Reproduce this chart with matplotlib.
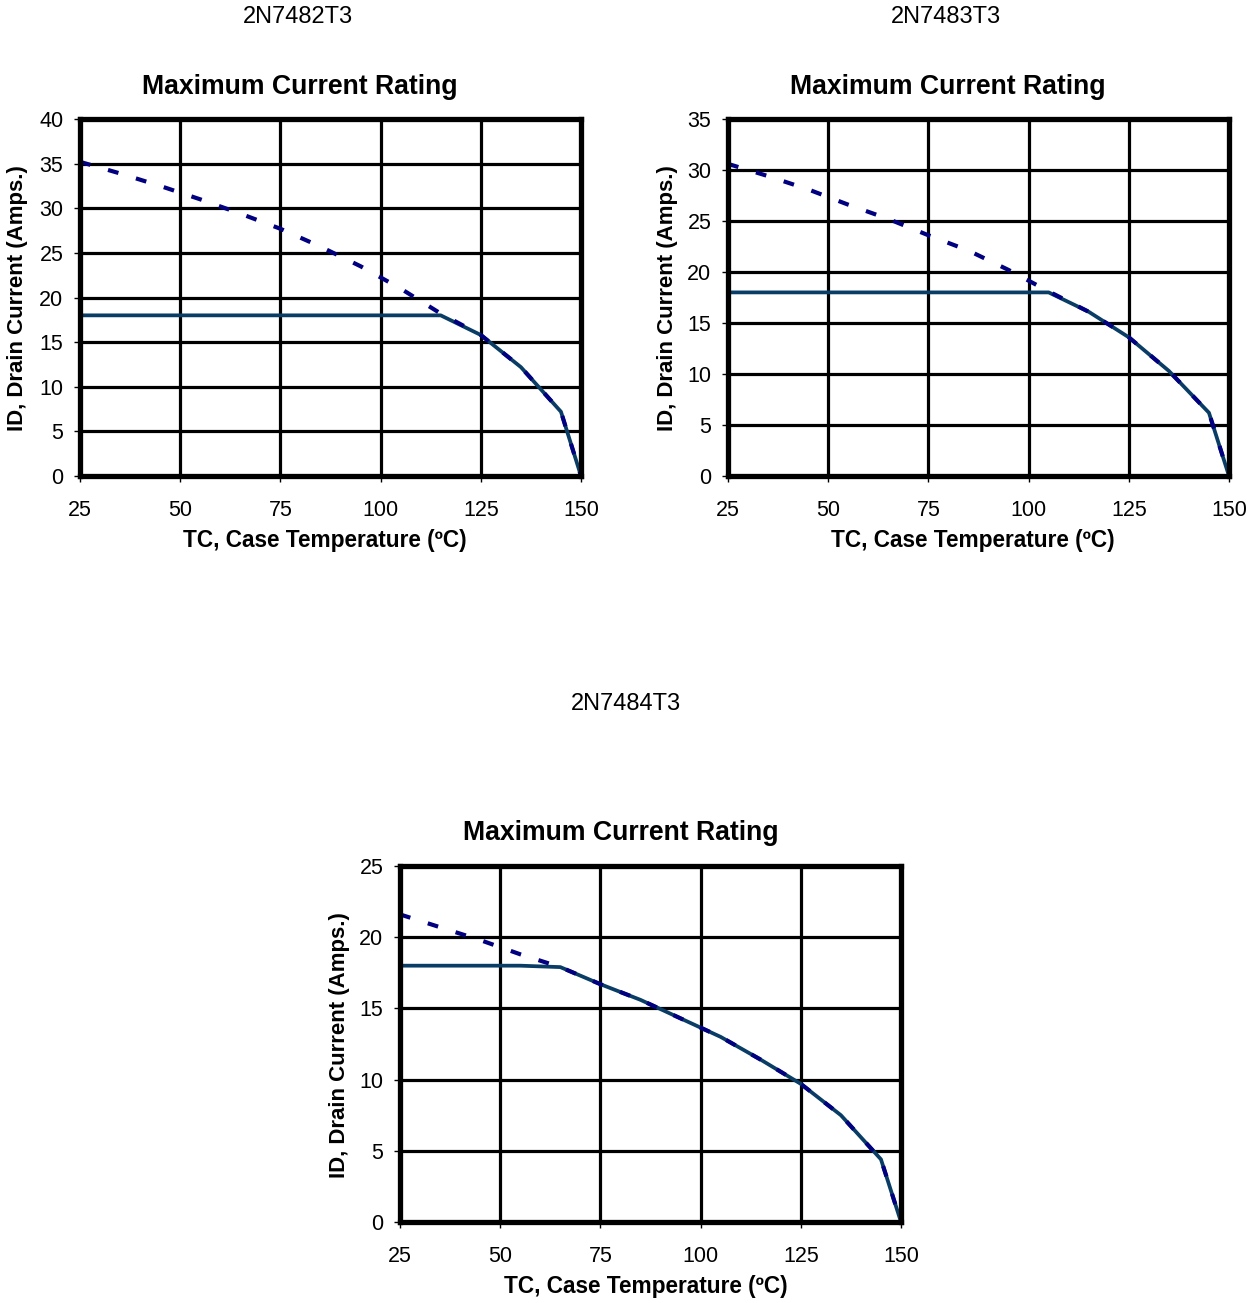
import matplotlib
matplotlib.use("Agg")
import matplotlib.pyplot as plt

# ---------------- data ----------------
part_names = ["2N7482T3", "2N7483T3", "2N7484T3"]
chart_title = "Maximum Current Rating"
x_label = "TC, Case Temperature (ºC)"
y_label = "ID, Drain Current (Amps.)"
x_ticks = [25, 50, 75, 100, 125, 150]

# 2N7482T3
temp_dash_1 = [25, 35, 45, 55, 65, 75, 85, 95, 105, 115, 125, 135, 145, 150]
curr_dash_1 = [35.2, 33.9, 32.5, 31.0, 29.4, 27.7, 25.7, 23.5, 21.0, 18.2, 15.8, 12.2, 7.2, 0.0]
temp_solid_1 = [25, 115, 125, 135, 145, 150]
curr_solid_1 = [18.0, 18.0, 15.8, 12.2, 7.2, 0.0]
y_ticks_1 = [0, 5, 10, 15, 20, 25, 30, 35, 40]

# 2N7483T3
temp_dash_2 = [25, 35, 45, 55, 65, 75, 85, 95, 105, 115, 125, 135, 145, 150]
curr_dash_2 = [30.6, 29.4, 28.1, 26.6, 25.2, 23.6, 22.1, 20.2, 18.1, 16.1, 13.6, 10.3, 6.2, 0.0]
temp_solid_2 = [25, 105, 115, 125, 135, 145, 150]
curr_solid_2 = [18.0, 18.0, 16.1, 13.6, 10.3, 6.2, 0.0]
y_ticks_2 = [0, 5, 10, 15, 20, 25, 30, 35]

# 2N7484T3
temp_dash_3 = [25, 35, 45, 55, 65, 75, 85, 95, 105, 115, 125, 135, 145, 150]
curr_dash_3 = [21.6, 20.7, 19.8, 18.8, 17.9, 16.7, 15.6, 14.3, 13.0, 11.4, 9.7, 7.5, 4.4, 0.0]
temp_solid_3 = [25, 55, 65, 75, 85, 95, 105, 115, 125, 135, 145, 150]
curr_solid_3 = [18.0, 18.0, 17.9, 16.7, 15.6, 14.3, 13.0, 11.4, 9.7, 7.5, 4.4, 0.0]
y_ticks_3 = [0, 5, 10, 15, 20, 25]

# ---------------- style ----------------
W, H = 1260, 1303
plt.rcParams['font.family'] = ['Liberation Sans', 'DejaVu Sans']
fig = plt.figure(figsize=(W / 100, H / 100), dpi=100)

DASH_COLOR = '#000080'
SOLID_COLOR = '#0A3D66'


def px_axes(left, top, right, bottom):
    return fig.add_axes([left / W, 1 - bottom / H, (right - left) / W, (bottom - top) / H])


def ftext(x, y, s, **kw):
    fig.text(x / W, 1 - y / H, s, ha='center', va='center', **kw)


def draw_chart(box, td, cd, ts, cs, yt, name_pos, title_pos, xl_pos, yl_pos, name):
    ax = px_axes(*box)
    ax.plot(ts, cs, color=SOLID_COLOR, lw=2.7, solid_joinstyle='round', zorder=3)
    ax.plot(td, cd, color=DASH_COLOR, lw=3.0, linestyle=(0, (2.6, 4.4)),
            dash_capstyle='butt', zorder=4)
    ax.set_xlim(x_ticks[0], x_ticks[-1])
    ax.set_ylim(yt[0], yt[-1])
    ax.set_xticks(x_ticks)
    ax.set_yticks(yt)
    ax.grid(True, color='black', lw=2.3)
    ax.set_axisbelow(True)
    for sp in ax.spines.values():
        sp.set_linewidth(3.8)
        sp.set_color('black')
        sp.set_zorder(5)
    ax.tick_params(axis='both', direction='out', length=4, width=1.0, labelsize=15.5,
                   color='black')
    ax.tick_params(axis='x', pad=13)
    ax.tick_params(axis='y', pad=8)
    ftext(*name_pos, name, fontsize=17)
    ftext(*title_pos, chart_title, fontsize=19.2, fontweight='bold')
    ftext(*xl_pos, x_label, fontsize=16.3, fontweight='bold')
    ftext(*yl_pos, y_label, fontsize=16, fontweight='bold', rotation=90)
    return ax


draw_chart((80, 119, 581, 476), temp_dash_1, curr_dash_1, temp_solid_1, curr_solid_1,
           y_ticks_1, (298, 17), (300, 87), (325, 540), (18, 298), part_names[0])
draw_chart((728, 119, 1229, 476), temp_dash_2, curr_dash_2, temp_solid_2, curr_solid_2,
           y_ticks_2, (946, 17), (948, 87), (973, 540), (667, 298), part_names[1])
draw_chart((400, 866, 901, 1222), temp_dash_3, curr_dash_3, temp_solid_3, curr_solid_3,
           y_ticks_3, (626, 704), (621, 833), (646, 1287), (340, 1045), part_names[2])

fig.savefig('out.png', dpi=100, facecolor='white')
